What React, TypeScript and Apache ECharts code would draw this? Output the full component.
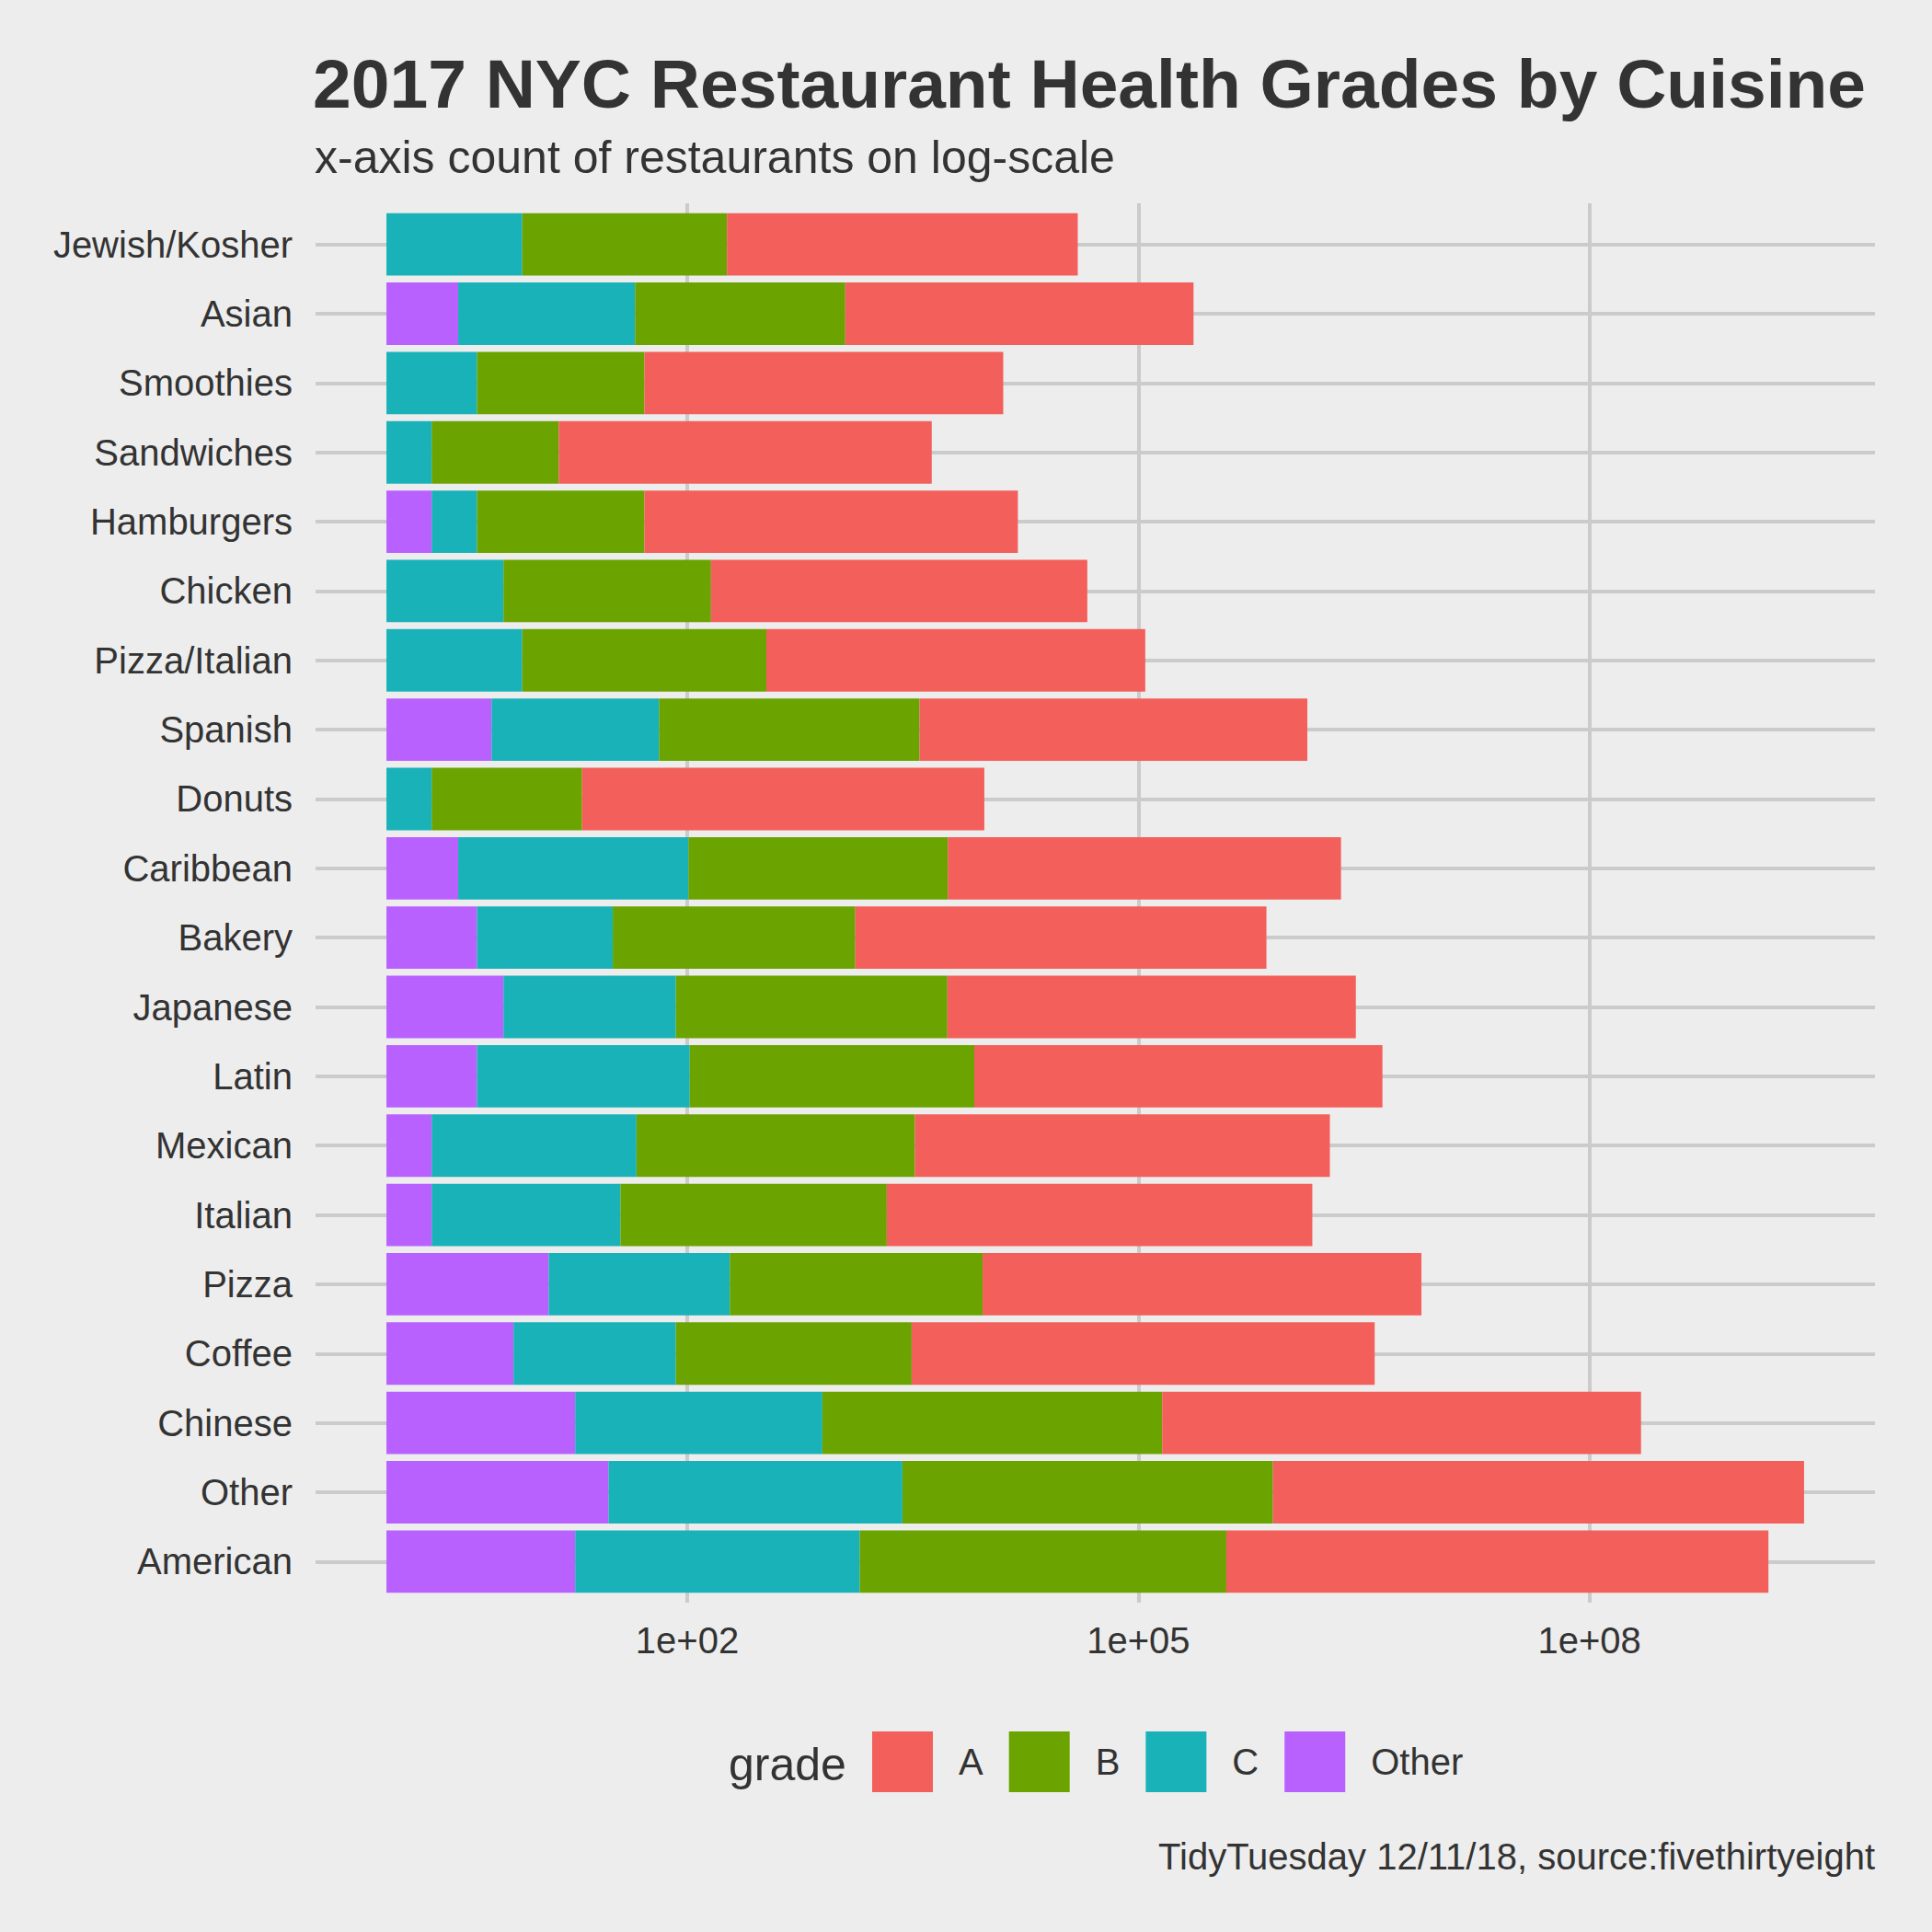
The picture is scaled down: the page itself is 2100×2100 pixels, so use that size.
import React, { useEffect, useRef } from "react";
import * as echarts from "echarts";

const categories = [
  "Jewish/Kosher", "Asian", "Smoothies", "Sandwiches", "Hamburgers", "Chicken",
  "Pizza/Italian", "Spanish", "Donuts", "Caribbean", "Bakery", "Japanese", "Latin",
  "Mexican", "Italian", "Pizza", "Coffee", "Chinese", "Other", "American",
];
const gradeA = [215, 207, 243, 302, 304, 318, 331, 379, 473, 412, 542, 520, 518, 575, 676, 828, 1200, 1528, 3404, 4027];
const gradeB = [23, 25, 13, 7, 13, 24, 42, 54, 10, 53, 41, 64, 78, 71, 59, 48, 37, 182, 291, 274];
const gradeC = [8, 15, 4, 2, 2, 6, 8, 13, 2, 34, 8, 14, 26, 23, 18, 16, 12, 44, 90, 78];
const gradeOther = [null, 3, null, null, 2, null, null, 5, null, 3, 4, 6, 4, 2, 2, 12, 7, 18, 30, 18];
const tickExponents = [2, 5, 8];
const legendNames = ["A", "B", "C", "Other"];

const COLORS: Record<string, string> = {
  A: "#F35F5A",
  B: "#6BA300",
  C: "#19B2B8",
  Other: "#B961FF",
};
const FONT = "Liberation Sans";
const TEXT = "#333333";
const GRID = "#CBCBCB";
const BG = "#EDEDED";

const toLog = (arr: (number | null)[]) => arr.map((v) => (v == null ? 0 : Math.log10(v)));

export default function App() {
  const ref = useRef<HTMLDivElement>(null);
  useEffect(() => {
    document.body.style.margin = "0";
    const chart = echarts.init(ref.current!, null, { renderer: "svg" });
    const stacks: [string, (number | null)[]][] = [
      ["Other", gradeOther],
      ["C", gradeC],
      ["B", gradeB],
      ["A", gradeA],
    ];
    const totals = categories.map((_, i) =>
      stacks.reduce((s, [, arr]) => s + (arr[i] == null ? 0 : Math.log10(arr[i] as number)), 0)
    );
    const maxTotal = Math.max(...totals);
    const xMin = -0.05 * maxTotal;
    const xMax = 1.05 * maxTotal;

    const barSeries = stacks.map(([name, arr]) => ({
      name,
      type: "bar",
      stack: "total",
      xAxisIndex: 1,
      yAxisIndex: 1,
      barWidth: "90%",
      z: 3,
      itemStyle: { color: COLORS[name] },
      data: toLog(arr),
    }));

    chart.setOption({
      animation: false,
      backgroundColor: BG,
      textStyle: { fontFamily: FONT, color: TEXT },
      title: [
        {
          text: "2017 NYC Restaurant Health Grades by Cuisine",
          left: 340,
          top: 53,
          padding: 0,
          textStyle: { fontFamily: FONT, fontSize: 75, fontWeight: "bold", color: TEXT },
        },
        {
          text: "x-axis count of restaurants on log-scale",
          left: 342,
          top: 146,
          padding: 0,
          textStyle: { fontFamily: FONT, fontSize: 50, fontWeight: "normal", color: TEXT },
        },
        {
          text: "TidyTuesday 12/11/18, source:fivethirtyeight",
          right: 62,
          top: 1998,
          padding: 0,
          textStyle: { fontFamily: FONT, fontSize: 40, fontWeight: "normal", color: TEXT },
        },
      ],
      legend: {
        data: legendNames,
        left: 948,
        top: 1882,
        padding: 0,
        orient: "horizontal",
        icon: "rect",
        itemWidth: 66,
        itemHeight: 66,
        itemGap: 28,
        selectedMode: false,
        textStyle: { fontFamily: FONT, fontSize: 40, color: TEXT, padding: [2, 0, 0, 23] },
      },
      graphic: [
        {
          type: "text",
          left: 792,
          top: 1893,
          style: { text: "grade", font: `50px "${FONT}"`, fill: TEXT },
        },
      ],
      grid: [
        { left: 343, right: 62, top: 221, bottom: 2100 - 1742 },
        { left: 343, right: 62, top: 228, bottom: 2100 - 1735 },
      ],
      xAxis: [
        {
          type: "value",
          gridIndex: 0,
          min: xMin,
          max: xMax,
          axisLine: { show: false },
          axisTick: { show: false, customValues: tickExponents },
          splitLine: { show: false },
          axisLabel: {
            customValues: tickExponents,
            fontFamily: FONT,
            fontSize: 40,
            color: TEXT,
            margin: 21,
            formatter: (v: number) => "1e+" + String(Math.round(v)).padStart(2, "0"),
          },
        },
        {
          type: "value",
          gridIndex: 1,
          min: xMin,
          max: xMax,
          show: false,
          splitLine: { show: false },
        },
      ],
      yAxis: [
        { type: "value", gridIndex: 0, show: false, splitLine: { show: false } },
        {
          type: "category",
          gridIndex: 1,
          data: categories,
          inverse: true,
          axisLine: { show: false },
          axisTick: { show: false },
          splitLine: { show: false },
          axisLabel: { fontFamily: FONT, fontSize: 40, color: TEXT, margin: 25, padding: [3, 0, 0, 0] },
        },
      ],
      series: [
        {
          type: "scatter",
          xAxisIndex: 0,
          yAxisIndex: 0,
          data: [],
          z: 0,
          silent: true,
          markLine: {
            z: 0,
            silent: true,
            animation: false,
            symbol: ["none", "none"],
            label: { show: false },
            lineStyle: { color: GRID, width: 4, type: "solid" },
            emphasis: { disabled: true },
            data: tickExponents.map((v) => ({ xAxis: v })),
          },
        },
        {
          type: "scatter",
          xAxisIndex: 1,
          yAxisIndex: 1,
          data: [],
          z: 0,
          silent: true,
          markLine: {
            z: 0,
            silent: true,
            animation: false,
            symbol: ["none", "none"],
            label: { show: false },
            lineStyle: { color: GRID, width: 4, type: "solid" },
            emphasis: { disabled: true },
            data: categories.map((c) => ({ yAxis: c })),
          },
        },
        ...barSeries,
      ],
    });
    return () => chart.dispose();
  }, []);
  return <div ref={ref} style={{ width: 2100, height: 2100 }} />;
}
